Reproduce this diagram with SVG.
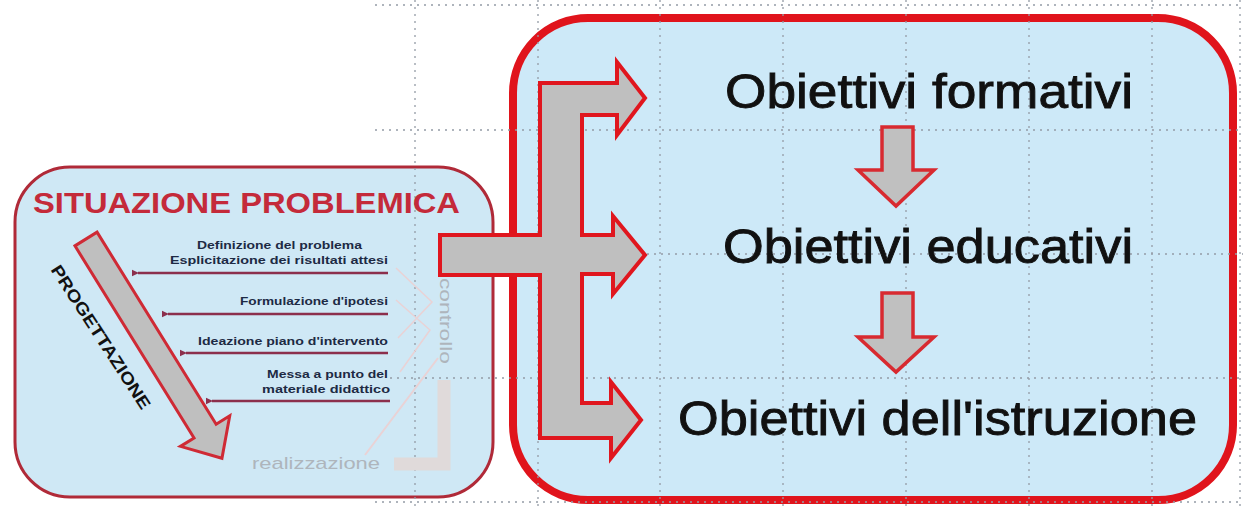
<svg xmlns="http://www.w3.org/2000/svg" width="1243" height="506" viewBox="0 0 1243 506">
<style>
.grid{stroke:#949ca6;stroke-width:1.3;stroke-dasharray:2 5;fill:none}
.big{font-family:"Liberation Sans",Arial,sans-serif;font-size:48px;fill:#111;stroke:#111;stroke-width:0.9}
.small{font-family:"Liberation Sans",Arial,sans-serif;font-size:10.5px;font-weight:bold;fill:#1d2a44}
.faded{font-family:"Liberation Sans",Arial,sans-serif;font-size:17px;fill:#aeb5bc}
.hline{stroke:#8c2f4c;stroke-width:2.4;fill:none}
.garrow{fill:#bfbfbf;stroke:#e0161e;stroke-width:4;stroke-linejoin:miter}
.darrow{fill:#c0c0c0;stroke:#d82a30;stroke-width:3.5}
</style>
<defs>
<marker id="lh" markerWidth="8" markerHeight="8" refX="1" refY="4" orient="auto" markerUnits="userSpaceOnUse">
<path d="M0,4 L7,0.8 L7,7.2 Z" fill="#8c2f4c"/>
</marker>
</defs>
<rect width="1243" height="506" fill="#ffffff"/>

<g id="box-situazione">
<rect x="15" y="167" width="478" height="330" rx="55" ry="55" fill="#cfe8f5" stroke="#b02a38" stroke-width="3"/>
</g>
<g id="box-obiettivi">
<rect x="513" y="18" width="720" height="482" rx="75" ry="75" fill="#cde9f8" stroke="#e0141c" stroke-width="8"/>
</g>

<g id="grid">
<path class="grid" d="M415,0V506 M538,0V506 M660,0V506 M783,0V506 M906,0V506 M1029,0V506 M1152,0V506 M1240,0V506"/>
<path class="grid" d="M375,5H1243 M375,130H1243 M500,254H1243 M390,378H1243 M375,502H1243"/>
</g>

<g id="faded-controllo">
<path d="M365,455 L438,358" stroke="#ead2d5" stroke-width="2" fill="none"/>
<path d="M396,268 L432,302 L398,338 M396,300 L430,330 L400,372" stroke="#ead2d5" stroke-width="1.5" fill="none"/>
<path d="M444,380 V464 H394" stroke="#e0dada" stroke-width="13" fill="none"/>
<text class="faded" transform="translate(440,278) rotate(90)" textLength="86" lengthAdjust="spacingAndGlyphs">controllo</text>
<text class="faded" x="252" y="469" textLength="128" lengthAdjust="spacingAndGlyphs">realizzazione</text>
</g>

<g id="title-situazione">
<text x="33" y="213" font-family="'Liberation Sans',Arial,sans-serif" font-size="29" font-weight="bold" fill="#c42a3a" textLength="427" lengthAdjust="spacingAndGlyphs">SITUAZIONE PROBLEMICA</text>
</g>

<g id="progettazione">
<path transform="translate(86,239) rotate(58.2)" class="garrow" style="stroke:#cf2a35;stroke-width:3" d="M0,-13 L226,-13 L226,-29 L258,0 L226,29 L226,13 L0,13 Z"/>
<text transform="translate(101,337) rotate(57)" text-anchor="middle" dy="6" font-family="'Liberation Sans',Arial,sans-serif" font-size="17" font-weight="bold" fill="#111" textLength="168" lengthAdjust="spacingAndGlyphs">PROGETTAZIONE</text>
</g>

<g id="connectors">
<path class="hline" marker-end="url(#lh)" d="M388,273 H138"/>
<path class="hline" marker-end="url(#lh)" d="M388,314 H168"/>
<path class="hline" marker-end="url(#lh)" d="M388,353 H186"/>
<path class="hline" marker-end="url(#lh)" d="M390,401 H212"/>
<path class="garrow" d="M440,235 L540,235 L540,83 L617,83 L617,62 L645,98 L617,135 L617,115 L582,115 L582,235 L613,235 L613,216 L645,255 L613,294 L613,274 L582,274 L582,403 L611,403 L611,382 L641,420 L611,458 L611,438 L540,438 L540,275 L440,275 Z"/>
<path class="darrow" d="M882,127 L913,127 L913,170 L934,170 L896,206 L858,170 L882,170 Z"/>
<path class="darrow" d="M882,293 L913,293 L913,337 L934,337 L896,372 L858,337 L882,337 Z"/>
</g>

<g id="step-labels">
<text class="small" x="197" y="249" textLength="165" lengthAdjust="spacingAndGlyphs">Definizione del problema</text>
<text class="small" x="170" y="264" textLength="218" lengthAdjust="spacingAndGlyphs">Esplicitazione dei risultati attesi</text>
<text class="small" x="240" y="305" textLength="148" lengthAdjust="spacingAndGlyphs">Formulazione d'ipotesi</text>
<text class="small" x="198" y="345" textLength="190" lengthAdjust="spacingAndGlyphs">Ideazione piano d'intervento</text>
<text class="small" x="267" y="378" textLength="121" lengthAdjust="spacingAndGlyphs">Messa a punto del</text>
<text class="small" x="262" y="393" textLength="128" lengthAdjust="spacingAndGlyphs">materiale didattico</text>
</g>

<g id="obiettivi-formativi">
<text class="big" x="725" y="108" textLength="408" lengthAdjust="spacingAndGlyphs">Obiettivi formativi</text>
</g>
<g id="obiettivi-educativi">
<text class="big" x="723" y="263" textLength="410" lengthAdjust="spacingAndGlyphs">Obiettivi educativi</text>
</g>
<g id="obiettivi-istruzione">
<text class="big" x="678" y="435" textLength="519" lengthAdjust="spacingAndGlyphs">Obiettivi dell'istruzione</text>
</g>
</svg>
